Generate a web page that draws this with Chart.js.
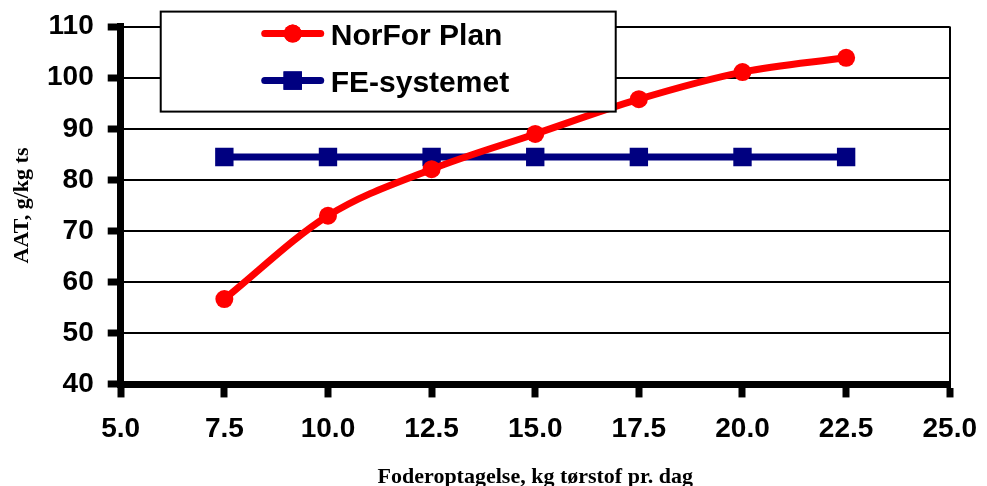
<!DOCTYPE html>
<html>
<head>
<meta charset="utf-8">
<script src="https://cdn.jsdelivr.net/npm/chart.js@4"></script>
<style>
  html, body { margin: 0; padding: 0; background: #fff; }
  #wrap { width: 987px; height: 486px; }
</style>
</head>
<body>
<div id="wrap"><canvas id="chart"></canvas></div>
<script>
// data
const xValues = [7.5, 10.0, 12.5, 15.0, 17.5, 20.0, 22.5];
const norforPlan = [56.7, 73.0, 82.1, 89.0, 95.8, 101.1, 103.9];
const feSystemet = [84.5, 84.5, 84.5, 84.5, 84.5, 84.5, 84.5];
const seriesNames = ['NorFor Plan', 'FE-systemet'];
const xTitle = 'Foderoptagelse, kg tørstof pr. dag';
const yTitle = 'AAT, g/kg ts';

const tickFamily = "'Liberation Sans', Arial, sans-serif";
const titleFont = { family: "'Liberation Serif', 'Times New Roman', serif", size: 22, weight: 'bold', lineHeight: 1 };

// legend box drawn inside the plot, like the original
const boxLegend = {
    id: 'boxLegend',
    afterDraw(chart) {
        const ctx = chart.ctx;
        const area = chart.chartArea;
        const x0 = area.left + 40, y0 = area.top - 15;
        const w = 455, h = 100;
        ctx.save();
        ctx.fillStyle = '#fff';
        ctx.fillRect(x0, y0, w, h);
        ctx.lineWidth = 2;
        ctx.strokeStyle = '#000';
        ctx.strokeRect(x0, y0, w, h);
        chart.data.datasets.forEach((ds, i) => {
            const cy = y0 + 22 + i * 47;
            ctx.lineWidth = 7;
            ctx.lineCap = 'round';
            ctx.strokeStyle = ds.borderColor;
            ctx.beginPath();
            ctx.moveTo(x0 + 104, cy);
            ctx.lineTo(x0 + 160, cy);
            ctx.stroke();
            ctx.fillStyle = ds.backgroundColor;
            Chart.helpers.drawPoint(ctx, { pointStyle: ds.pointStyle, radius: ds.pointRadius, borderWidth: 0 }, x0 + 132, cy);
            ctx.fill();
            ctx.fillStyle = '#000';
            ctx.font = "bold 30px " + tickFamily;
            ctx.textBaseline = 'middle';
            ctx.fillText(ds.label, x0 + 170, cy + 3);
        });
        ctx.restore();
    }
};

document.addEventListener('DOMContentLoaded', function(){

    const ctx = document.getElementById('chart').getContext('2d');
    new Chart(ctx, {
        type: 'line',
        data: {
            datasets: [
                {
                    label: seriesNames[0],
                    data: xValues.map((x, i) => ({ x: x, y: norforPlan[i] })),
                    borderColor: '#ff0000',
                    backgroundColor: '#ff0000',
                    borderWidth: 7,
                    cubicInterpolationMode: 'monotone',
                    pointStyle: 'circle',
                    pointRadius: 9,
                    pointBorderWidth: 0,
                },
                {
                    label: seriesNames[1],
                    data: xValues.map((x, i) => ({ x: x, y: feSystemet[i] })),
                    borderColor: '#000080',
                    backgroundColor: '#000080',
                    borderWidth: 7,
                    pointStyle: 'rect',
                    pointRadius: 13,
                    pointBorderWidth: 0,
                }
            ]
        },
        options: {
            responsive: true,
            maintainAspectRatio: false,
            animation: false,
            layout: { padding: { top: 20, right: 30, left: 5, bottom: 0 } },
            plugins: {
                legend: { display: false },
                tooltip: { enabled: false }
            },
            scales: {
                x: {
                    type: 'linear',
                    min: 5,
                    max: 25,
                    ticks: {
                        stepSize: 2.5,
                        color: '#000',
                        font: { family: tickFamily, size: 28, weight: 'bold', lineHeight: 1.57 },
                        padding: 10,
                        callback: v => v.toFixed(1)
                    },
                    grid: {
                        color: c => (c.tick && c.tick.value === 25) ? '#000' : 'rgba(0,0,0,0)',
                        lineWidth: 2,
                        tickColor: '#000',
                        tickWidth: 7,
                        tickLength: 13
                    },
                    border: { display: true, color: '#000', width: 7 },
                    title: { display: true, text: xTitle, color: '#000', font: { ...titleFont, lineHeight: 0.8 }, padding: { top: 7, bottom: 0 } }
                },
                y: {
                    min: 40,
                    max: 110,
                    ticks: {
                        stepSize: 10,
                        color: '#000',
                        font: { family: tickFamily, size: 28, weight: 'bold', lineHeight: 0.9 },
                        padding: 14
                    },
                    grid: {
                        color: '#000',
                        lineWidth: 2,
                        tickColor: '#000',
                        tickWidth: 7,
                        tickLength: 13
                    },
                    border: { display: true, color: '#000', width: 7 },
                    title: { display: true, text: yTitle, color: '#000', font: titleFont, padding: { top: 6, bottom: 0 } }
                }
            }
        },
        plugins: [boxLegend]
    });

});
</script>
</body>
</html>
